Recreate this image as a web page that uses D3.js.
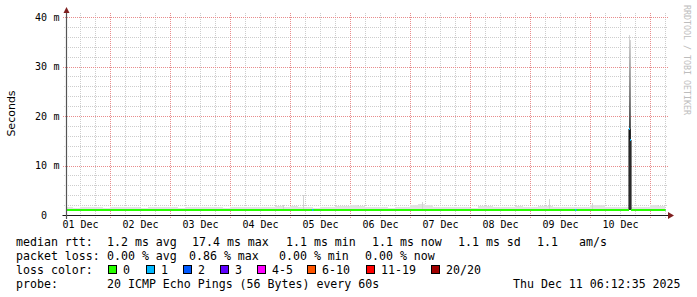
<!DOCTYPE html>
<html>
<head>
<meta charset="utf-8">
<script src="https://cdn.jsdelivr.net/npm/d3@7"></script>
<style>
  body { margin: 0; background: #fff; }
  text { font-family: "DejaVu Sans Mono", monospace; fill: #000; }
</style>
</head>
<body>
<svg id="chart" width="697" height="297"></svg>
<script>
// time range of the graph (10 days ending now)
const startTime = "2025-12-01T06:12:35Z";
const endTime = "2025-12-11T06:12:35Z";

// y axis ticks (ms) and day labels
const yMajor = [0, 10, 20, 30, 40];
const yMinor = [2, 4, 6, 8, 12, 14, 16, 18, 22, 24, 26, 28, 32, 34, 36, 38];
const dayNoons = ["2025-12-01T12:00Z", "2025-12-02T12:00Z", "2025-12-03T12:00Z", "2025-12-04T12:00Z", "2025-12-05T12:00Z",
                  "2025-12-06T12:00Z", "2025-12-07T12:00Z", "2025-12-08T12:00Z", "2025-12-09T12:00Z", "2025-12-10T12:00Z"];
const dayLabels = ["01 Dec", "02 Dec", "03 Dec", "04 Dec", "05 Dec", "06 Dec", "07 Dec", "08 Dec", "09 Dec", "10 Dec"];

// 3h bins starting 01 Dec 06:00 - smoke top (ms) and median (ms)
const binStart = "2025-12-01T06:00:00Z";
const binSmoke = [
  1.6, 1.5, 1.6, 1.7, 1.6, 1.5, 1.6, 1.6, 1.7, 1.6,
  1.5, 1.6, 1.6, 1.7, 1.6, 1.5, 1.6, 1.6, 1.7, 1.6,
  1.6, 1.5, 1.7, 1.6, 1.6, 1.7, 1.6, 1.7, 1.9, 1.7,
  1.9, 1.6, 1.6, 1.5, 1.6, 1.7, 1.8, 1.9, 2.0, 1.9,
  1.6, 1.7, 1.6, 1.5, 1.6, 1.7, 2.1, 2.3, 2.0, 1.7,
  1.6, 1.6, 1.7, 1.6, 1.5, 1.9, 1.9, 1.6, 1.7, 1.6,
  1.8, 1.6, 1.6, 1.8, 1.8, 1.6, 1.6, 1.7, 1.7, 1.6,
  2.1, 2.0, 1.7, 1.6, 1.7, 1.6, 1.6, 1.6, 2.0, 1.9
];
const binMedian = [
  1.1, 1.1, 1.1, 1.1, 1.1, 1.1, 1.1, 1.1, 1.1, 1.1,
  1.1, 1.1, 1.1, 1.1, 1.1, 1.1, 1.1, 1.1, 1.1, 1.1,
  1.1, 1.1, 1.1, 1.1, 1.1, 1.1, 1.1, 1.1, 1.1, 1.1,
  1.1, 1.1, 1.1, 1.1, 1.1, 1.1, 1.1, 1.1, 1.1, 1.1,
  1.1, 1.1, 1.1, 1.1, 1.1, 1.1, 1.1, 1.1, 1.1, 1.1,
  1.1, 1.1, 1.1, 1.1, 1.1, 1.1, 1.1, 1.1, 1.1, 1.1,
  1.1, 1.1, 1.1, 1.1, 1.1, 1.1, 1.1, 1.1, 1.1, 1.1,
  1.1, 1.1, 1.1, 1.1, 1.1, 1.1, 1.1, 1.1, 1.1, 1.1
];

// single 24 min samples with taller smoke
const peakTimes = ["2025-12-04T21:00Z", "2025-12-05T05:00Z", "2025-12-07T04:36Z", "2025-12-09T07:24Z", "2025-12-10T00:36Z"];
const peakSmoke = [2.1, 4.0, 2.6, 3.2, 2.5];

// samples with 1 lost ping on the baseline
const lossTimes = ["2025-12-05T08:36Z", "2025-12-09T17:48Z"];

// the spike on 10 Dec
const spikeTimes = ["2025-12-10T15:24:35Z", "2025-12-10T15:48:35Z"];
const spikeMedian = [17.4, 15.2];
const spikeTop = [36.3, 35.3];
const spikeLow = [1.0, 1.0];
const spikeLoss = [1, 1];

// legend
const lossColors = ["#26ff00", "#00b8ff", "#0059ff", "#5e00ff", "#ff00ff", "#ff5500", "#ff0000", "#a10000"];
const lossLabels = ["0", "1", "2", "3", "4-5", "6-10", "11-19", "20/20"];
const rttStats = ["1.2 ms avg", "17.4 ms max", "1.1 ms min", "1.1 ms now", "1.1 ms sd", "1.1", "am/s"];
const lossStats = ["0.00 % avg", "0.86 % max", "0.00 % min", "0.00 % now"];
const probeText = "20 ICMP Echo Pings (56 Bytes) every 60s";
const stampText = "Thu Dec 11 06:12:35 2025";

const HOUR = 3600e3;
const svg = d3.select("#chart");
const start = new Date(startTime), end = new Date(endTime);
const x = d3.scaleUtc().domain([start, end]).range([66, 666]);
const y = d3.scaleLinear().domain([0, 40]).range([215, 17]);
const px = v => Math.round(v) + 0.5;

// build sample list, cut the spike samples into the 3h bins
let samples = binSmoke.map((s, i) => {
  const t0 = new Date(+new Date(binStart) + i * 3 * HOUR);
  return {t0, t1: new Date(+t0 + 3 * HOUR), median: binMedian[i], top: s, low: binMedian[i], loss: 0};
});
spikeTimes.forEach((t, i) => {
  const t0 = new Date(t), t1 = new Date(+t0 + 24 * 60e3);
  const out = [];
  samples.forEach(s => {
    if (s.t1 <= t0 || s.t0 >= t1) { out.push(s); return; }
    if (s.t0 < t0) out.push({...s, t1: t0});
    if (s.t1 > t1) out.push({...s, t0: t1});
  });
  out.push({t0, t1, median: spikeMedian[i], top: spikeTop[i], low: spikeLow[i], loss: spikeLoss[i], spike: true});
  samples = out.sort((a, b) => a.t0 - b.t0);
});

const defs = svg.append("defs");
defs.append("clipPath").attr("id", "plotClip")
  .append("rect").attr("x", 66).attr("y", 0).attr("width", 600).attr("height", 216);
const grad = defs.append("linearGradient").attr("id", "smokeGrad")
  .attr("x1", 0).attr("y1", 1).attr("x2", 0).attr("y2", 0);
grad.append("stop").attr("offset", 0).attr("stop-color", "#444");
grad.append("stop").attr("offset", 0.3).attr("stop-color", "#777");
grad.append("stop").attr("offset", 1).attr("stop-color", "#d6d6d6");

// grid
const grid = svg.append("g").attr("shape-rendering", "crispEdges");
const minorCol = "#cdcdcd", majorCol = "#e88c8c";
yMinor.forEach(v => grid.append("line")
  .attr("x1", 64).attr("x2", 668).attr("y1", px(y(v))).attr("y2", px(y(v)))
  .attr("stroke", minorCol).attr("stroke-dasharray", "1,1"));
d3.utcHour.every(6).range(start, end).filter(d => d.getUTCHours() !== 0).forEach(d => grid.append("line")
  .attr("x1", px(x(d))).attr("x2", px(x(d))).attr("y1", 13).attr("y2", 218)
  .attr("stroke", minorCol).attr("stroke-dasharray", "1,1"));
yMajor.filter(v => v > 0).forEach(v => grid.append("line")
  .attr("x1", 63).attr("x2", 668).attr("y1", px(y(v))).attr("y2", px(y(v)))
  .attr("stroke", majorCol).attr("stroke-dasharray", "1,1"));
d3.utcDay.range(start, end).filter(d => d > start).forEach(d => grid.append("line")
  .attr("x1", px(x(d))).attr("x2", px(x(d))).attr("y1", 13).attr("y2", 219)
  .attr("stroke", majorCol).attr("stroke-dasharray", "1,1"));

// smoke
const plot = svg.append("g").attr("clip-path", "url(#plotClip)");
const smoke = plot.append("g").attr("shape-rendering", "crispEdges");
samples.filter(s => !s.spike).forEach(s => smoke.append("rect")
  .attr("x", Math.round(x(s.t0))).attr("width", Math.round(x(s.t1)) - Math.round(x(s.t0)))
  .attr("y", Math.round(y(s.top))).attr("height", Math.max(0, Math.round(y(s.median)) - Math.round(y(s.top))))
  .attr("fill", "#e2e2e2"));
peakTimes.forEach((t, i) => {
  const t0 = new Date(t);
  smoke.append("rect")
    .attr("x", Math.round(x(t0))).attr("width", 1)
    .attr("y", Math.round(y(peakSmoke[i]))).attr("height", Math.round(y(1.1)) - Math.round(y(peakSmoke[i])))
    .attr("fill", "#d2d2d2");
});
samples.filter(s => s.spike).forEach(s => {
  const x0 = Math.round(x(s.t0)), w = Math.max(1, Math.round(x(s.t1)) - x0);
  smoke.append("rect").attr("x", x0).attr("width", w)
    .attr("y", Math.round(y(s.top))).attr("height", Math.round(y(s.median)) - Math.round(y(s.top)))
    .attr("fill", "url(#smokeGrad)");
  smoke.append("rect").attr("x", x0).attr("width", w)
    .attr("y", Math.round(y(s.median))).attr("height", Math.round(y(s.low)) - Math.round(y(s.median)))
    .attr("fill", "#555");
});

// median line: black steps, then loss coloured segments
const pts = samples.map(s => [x(s.t0), Math.round(y(s.median))]);
const last = samples[samples.length - 1];
pts.push([x(last.t1), Math.round(y(last.median))]);
plot.append("path")
  .attr("d", d3.line().curve(d3.curveStepAfter)(pts))
  .attr("fill", "none").attr("stroke", "#000").attr("stroke-width", 1);
const lossIdx = n => n <= 3 ? n : n <= 5 ? 4 : n <= 10 ? 5 : n <= 19 ? 6 : 7;
samples.forEach(s => plot.append("line")
  .attr("x1", x(s.t0)).attr("x2", x(s.t1))
  .attr("y1", Math.round(y(s.median))).attr("y2", Math.round(y(s.median)))
  .attr("stroke", lossColors[lossIdx(s.loss)]).attr("stroke-width", 2));
lossTimes.forEach(t => {
  const t0 = new Date(t);
  plot.append("line")
    .attr("x1", x(t0)).attr("x2", x(t0) + 1.5)
    .attr("y1", Math.round(y(1.1))).attr("y2", Math.round(y(1.1)))
    .attr("stroke", lossColors[1]).attr("stroke-width", 2);
});

// axes + arrows
svg.append("line").attr("x1", 62.5).attr("x2", 670).attr("y1", 215.5).attr("y2", 215.5)
  .attr("stroke", "#1a1a1a").attr("stroke-width", 1.2);
svg.append("line").attr("x1", 66.5).attr("x2", 66.5).attr("y1", 219).attr("y2", 11)
  .attr("stroke", "#555").attr("stroke-width", 1.2);
svg.append("path").attr("d", "M668,212L674,215.5L668,219Z").attr("fill", "#7f1f1f");
svg.append("path").attr("d", "M63.5,13L66.5,7L69.5,13Z").attr("fill", "#7f1f1f");

// y labels
yMajor.forEach(v => {
  svg.append("text").attr("x", 47).attr("y", y(v) + 3.5)
    .attr("text-anchor", "end").style("font-size", "10px").text(v);
  if (v > 0) svg.append("text").attr("x", 53.5).attr("y", y(v) + 3.5)
    .style("font-size", "10px").text("m");
});
// x labels
dayNoons.forEach((d, i) => svg.append("text")
  .attr("x", x(new Date(d))).attr("y", 228)
  .attr("text-anchor", "middle").style("font-size", "10px").text(dayLabels[i]));

svg.append("text").attr("transform", "translate(15,113.5) rotate(-90)")
  .attr("text-anchor", "middle")
  .style("font-family", "'DejaVu Sans', sans-serif").style("font-size", "11px")
  .text("Seconds");
svg.append("text").attr("transform", "translate(684,5) rotate(90)")
  .style("font-size", "8.3px").style("fill", "#bdbdbd")
  .text("RRDTOOL / TOBI OETIKER");

// legend
const lg = svg.append("g").style("font-size", "11.6px");
const rows = [245.5, 259.5, 273.5, 287.5];
lg.append("text").attr("x", 16).attr("y", rows[0]).text("median rtt:");
[107, 192, 286, 372, 458, 537, 579].forEach((xx, i) =>
  lg.append("text").attr("x", xx).attr("y", rows[0]).text(rttStats[i]));
lg.append("text").attr("x", 16).attr("y", rows[1]).text("packet loss:");
[107, 189, 279, 365].forEach((xx, i) =>
  lg.append("text").attr("x", xx).attr("y", rows[1]).text(lossStats[i]));
lg.append("text").attr("x", 16).attr("y", rows[2]).text("loss color:");
[108, 146, 183, 220, 257, 307, 366, 431].forEach((xx, i) => {
  lg.append("rect").attr("x", xx + 0.5).attr("y", 265.5).attr("width", 8).attr("height", 8)
    .attr("fill", lossColors[i]).attr("stroke", "#000").attr("stroke-width", 1);
  lg.append("text").attr("x", xx + 15).attr("y", rows[2]).text(lossLabels[i]);
});
lg.append("text").attr("x", 16).attr("y", rows[3]).text("probe:");
lg.append("text").attr("x", 107).attr("y", rows[3]).text(probeText);
lg.append("text").attr("x", 513).attr("y", rows[3]).text(stampText);
</script>
</body>
</html>
